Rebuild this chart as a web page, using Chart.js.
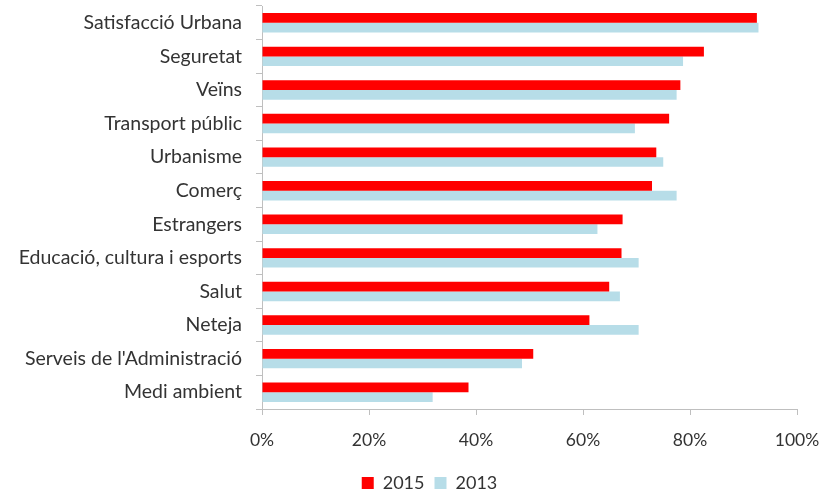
<!DOCTYPE html>
<html>
<head>
<meta charset="utf-8">
<script src="https://cdn.jsdelivr.net/npm/chart.js@4.4.1/dist/chart.umd.min.js"></script>
<style>
  body { margin: 0; background: #fff; }
  #wrap { width: 827px; height: 489px; }
</style>
</head>
<body>
<div id="wrap"><canvas id="satisfChart" width="827" height="489"></canvas></div>
<script>
// categories and values (percent)
const categories = [
  'Satisfacció Urbana', 'Seguretat', 'Veïns', 'Transport públic', 'Urbanisme', 'Comerç',
  'Estrangers', 'Educació, cultura i esports', 'Salut', 'Neteja',
  "Serveis de l'Administració", 'Medi ambient'
];
const values2015 = [92.5, 82.6, 78.2, 76.1, 73.7, 72.9, 67.4, 67.2, 64.9, 61.2, 50.7, 38.6];
const values2013 = [92.8, 78.7, 77.5, 69.7, 75.0, 77.5, 62.7, 70.4, 66.9, 70.4, 48.6, 31.9];
const xTicks = [0, 20, 40, 60, 80, 100];

const axisColor = '#bfbfbf';
const textColor = '#333333';
const fontFamily = 'Lato, "Open Sans", sans-serif';

// legend sits a bit right of the canvas centre in the original
const legendShift = {
  id: 'legendShift',
  afterLayout(chart) {
    chart.legend.left += 62;
  }
};

const ctx = document.getElementById('satisfChart').getContext('2d');
new Chart(ctx, {
  type: 'bar',
  data: {
    labels: categories,
    datasets: [
      {
        label: '2015',
        data: values2015,
        backgroundColor: '#ff0000',
        categoryPercentage: 0.58,
        barPercentage: 1.0
      },
      {
        label: '2013',
        data: values2013,
        backgroundColor: '#b7dde8',
        categoryPercentage: 0.58,
        barPercentage: 1.0
      }
    ]
  },
  options: {
    indexAxis: 'y',
    responsive: false,
    animation: false,
    layout: { padding: { top: 6, right: 30, left: 0, bottom: -13 } },
    scales: {
      x: {
        min: 0,
        max: 100,
        afterBuildTicks: (scale) => { scale.ticks = xTicks.map(v => ({ value: v })); },
        afterFit: (scale) => {
          scale.height = 55;
          scale.paddingLeft = 0;
          scale.paddingRight = 0;
        },
        grid: { drawOnChartArea: false, tickLength: 6, color: axisColor },
        border: { color: axisColor },
        ticks: {
          padding: 15,
          color: textColor,
          font: { family: fontFamily, size: 17.5 },
          callback: (v) => v + '%'
        }
      },
      y: {
        afterFit: (scale) => {
          scale.width = 262;
          scale.paddingTop = 0;
          scale.paddingBottom = 0;
        },
        grid: { drawOnChartArea: false, tickLength: 6, color: axisColor, offset: true },
        border: { color: axisColor },
        ticks: {
          padding: 14,
          color: textColor,
          font: { family: fontFamily, size: 19.5 }
        }
      }
    },
    plugins: {
      legend: {
        position: 'bottom',
        labels: {
          boxWidth: 12,
          boxHeight: 12,
          padding: 10,
          color: textColor,
          font: { family: fontFamily, size: 18 }
        }
      },
      tooltip: { enabled: false }
    }
  },
  plugins: [legendShift]
});
</script>
</body>
</html>
